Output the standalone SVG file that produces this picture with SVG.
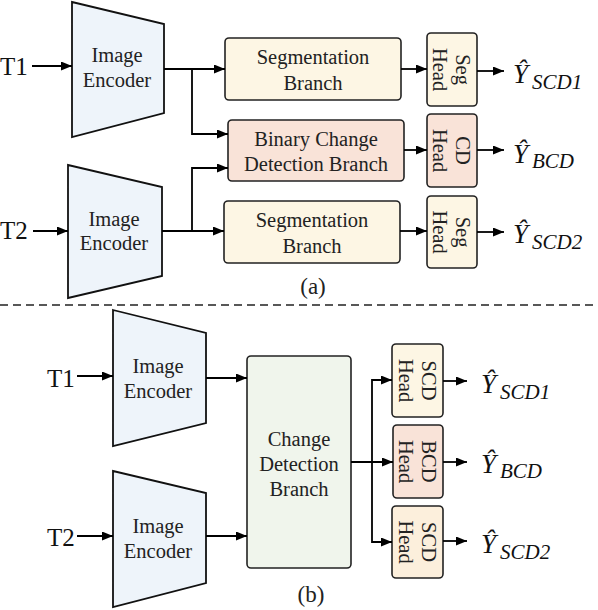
<svg xmlns="http://www.w3.org/2000/svg" width="598" height="610" viewBox="0 0 598 610">
<defs>
<marker id="ah" markerUnits="userSpaceOnUse" markerWidth="12" markerHeight="10" refX="11" refY="4.5" orient="auto">
<path d="M0,0 L11,4.5 L0,9 z" fill="#000"/>
</marker>
<style>
.enc{fill:#eef4fa;stroke:#111;stroke-width:1.8}
.box{stroke:#222;stroke-width:1.6}
.cream{fill:#fdf6e4}
.pink{fill:#f9e3d8}
.peach{fill:#fcefdc}
.green{fill:#f0f5ec}
.t{font-family:"Liberation Serif",serif;font-size:20.5px;fill:#222;text-anchor:middle}
.lab{font-family:"Liberation Serif",serif;font-size:23px;fill:#222;text-anchor:middle}
.big{font-family:"Liberation Serif",serif;font-size:25px;fill:#111}
.y{font-family:"Liberation Serif",serif;font-style:italic;font-size:27px;fill:#111}
.sub{font-family:"Liberation Serif",serif;font-style:italic;font-size:21px;fill:#111}
.c{fill:none;stroke:#000;stroke-width:1.8}
.a{marker-end:url(#ah)}
</style>
</defs>
<rect width="598" height="610" fill="#fff"/>

<!-- (a) -->
<text class="big" x="0" y="75">T1</text>
<text class="big" x="0" y="239">T2</text>

<g id="enc-a1">
<polygon class="enc" points="72,2 164,24 164,113 72,137"/>
<text class="t" x="117" y="62">Image</text>
<text class="t" x="117" y="87">Encoder</text>
</g>
<g id="enc-a2">
<polygon class="enc" points="68,165 162,187 162,276 68,298"/>
<text class="t" x="114" y="226">Image</text>
<text class="t" x="114" y="250">Encoder</text>
</g>
<g id="seg1">
<rect class="box cream" x="225" y="38" width="176" height="62" rx="4"/>
<text class="t" x="313" y="64">Segmentation</text>
<text class="t" x="313" y="90">Branch</text>
</g>
<g id="bcd">
<rect class="box pink" x="228" y="120" width="176" height="61" rx="4"/>
<text class="t" x="316" y="146">Binary Change</text>
<text class="t" x="316" y="171">Detection Branch</text>
</g>
<g id="seg2">
<rect class="box cream" x="224" y="201" width="176" height="62" rx="4"/>
<text class="t" x="312" y="227">Segmentation</text>
<text class="t" x="312" y="253">Branch</text>
</g>
<g id="seghead1">
<rect class="box cream" x="427" y="33" width="50" height="73" rx="4"/>
<g transform="translate(452,69.5) rotate(90)">
<text class="t" x="0" y="-4">Seg</text>
<text class="t" x="0" y="19">Head</text>
</g>
</g>
<g id="cdhead">
<rect class="box pink" x="427" y="114" width="50" height="73" rx="4"/>
<g transform="translate(452,150.5) rotate(90)">
<text class="t" x="0" y="-4">CD</text>
<text class="t" x="0" y="19">Head</text>
</g>
</g>
<g id="seghead2">
<rect class="box cream" x="427" y="196" width="50" height="72" rx="4"/>
<g transform="translate(452,232) rotate(90)">
<text class="t" x="0" y="-4">Seg</text>
<text class="t" x="0" y="19">Head</text>
</g>
</g>
<g id="out-a">
<text class="y" x="513" y="83">Ŷ</text><text class="sub" x="532" y="89">SCD1</text>
<text class="y" x="513" y="163">Ŷ</text><text class="sub" x="532" y="168">BCD</text>
<text class="y" x="513" y="243">Ŷ</text><text class="sub" x="532" y="249">SCD2</text>
</g>
<text class="lab" x="313" y="294">(a)</text>

<line x1="0" y1="305" x2="598" y2="305" stroke="#222" stroke-width="1.6" stroke-dasharray="8,5"/>

<!-- (b) -->
<text class="big" x="47" y="387">T1</text>
<text class="big" x="47" y="546">T2</text>
<g id="enc-b1">
<polygon class="enc" points="113,310 206,333 206,423 113,446"/>
<text class="t" x="158" y="373">Image</text>
<text class="t" x="158" y="398">Encoder</text>
</g>
<g id="enc-b2">
<polygon class="enc" points="113,471 206,493 206,583 113,607"/>
<text class="t" x="158" y="533">Image</text>
<text class="t" x="158" y="558">Encoder</text>
</g>
<g id="cdb">
<rect class="box green" x="247" y="356" width="104" height="212" rx="4"/>
<text class="t" x="299" y="446">Change</text>
<text class="t" x="299" y="471">Detection</text>
<text class="t" x="299" y="496">Branch</text>
</g>
<g id="scdhead1">
<rect class="box cream" x="392" y="344" width="51" height="73" rx="4"/>
<g transform="translate(417.5,380.5) rotate(90)">
<text class="t" x="0" y="-4">SCD</text>
<text class="t" x="0" y="19">Head</text>
</g>
</g>
<g id="bcdhead">
<rect class="box pink" x="393" y="425" width="50" height="73" rx="4"/>
<g transform="translate(418,461.5) rotate(90)">
<text class="t" x="0" y="-4">BCD</text>
<text class="t" x="0" y="19">Head</text>
</g>
</g>
<g id="scdhead2">
<rect class="box peach" x="392" y="506" width="51" height="72" rx="4"/>
<g transform="translate(417.5,542) rotate(90)">
<text class="t" x="0" y="-4">SCD</text>
<text class="t" x="0" y="19">Head</text>
</g>
</g>
<g id="out-b">
<text class="y" x="481" y="393">Ŷ</text><text class="sub" x="500" y="399">SCD1</text>
<text class="y" x="481" y="473">Ŷ</text><text class="sub" x="500" y="478">BCD</text>
<text class="y" x="481" y="553">Ŷ</text><text class="sub" x="500" y="559">SCD2</text>
</g>
<text class="lab" x="311" y="602">(b)</text>

<g id="connectors">
<line class="c a" x1="32" y1="66" x2="72" y2="66"/>
<line class="c a" x1="33" y1="231" x2="68" y2="231"/>
<line class="c a" x1="164" y1="69" x2="225" y2="69"/>
<polyline class="c a" points="192,69 192,134 228,134"/>
<line class="c a" x1="162" y1="231" x2="224" y2="231"/>
<polyline class="c a" points="192,231 192,168 228,168"/>
<line class="c a" x1="401" y1="69" x2="427" y2="69"/>
<line class="c a" x1="404" y1="150" x2="427" y2="150"/>
<line class="c a" x1="400" y1="231" x2="427" y2="231"/>
<line class="c a" x1="477" y1="71" x2="504" y2="71"/>
<line class="c a" x1="477" y1="150" x2="504" y2="150"/>
<line class="c a" x1="477" y1="232" x2="504" y2="232"/>

<line class="c a" x1="77" y1="376" x2="113" y2="376"/>
<line class="c a" x1="77" y1="536" x2="113" y2="536"/>
<line class="c a" x1="206" y1="378" x2="247" y2="378"/>
<line class="c a" x1="206" y1="536" x2="247" y2="536"/>
<line class="c a" x1="351" y1="462" x2="393" y2="462"/>
<polyline class="c a" points="372,462 372,380 392,380"/>
<polyline class="c a" points="372,462 372,542 392,542"/>
<line class="c a" x1="443" y1="381" x2="467" y2="381"/>
<line class="c a" x1="443" y1="462" x2="467" y2="462"/>
<line class="c a" x1="443" y1="541" x2="467" y2="541"/>
</g>
</svg>
